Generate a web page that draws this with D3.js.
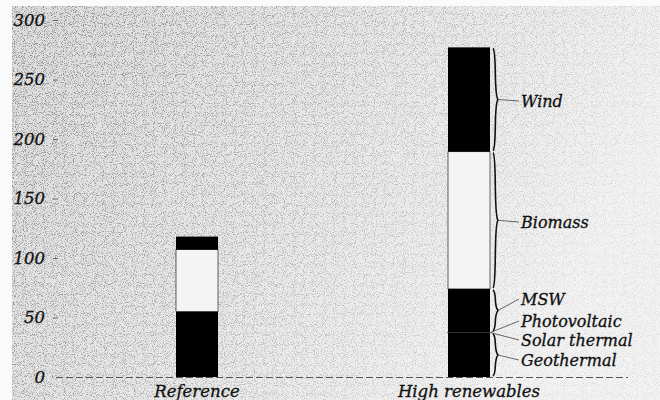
<!DOCTYPE html>
<html><head><meta charset="utf-8">
<script src="https://cdn.jsdelivr.net/npm/d3@7"></script>
<style>
html,body{margin:0;padding:0;background:#fafafa;}
text{font-family:"DejaVu Serif",serif;font-style:italic;fill:#111;stroke:#111;stroke-width:0.3px;}
</style></head>
<body>
<svg id="chart" width="660" height="400"></svg>
<script>
// ---- data ----
const categories = ["Reference", "High renewables"];
const seriesNames = ["Geothermal", "Solar thermal", "Photovoltaic", "MSW", "Biomass", "Wind"];
const geothermal   = [55, 37];
const solarThermal = [0, 0.4];
const photovoltaic = [0, 0.4];
const msw          = [0, 36.2];
const biomass      = [52, 115.3];
const wind         = [11, 87.7];
const yTicks = [0, 50, 100, 150, 200, 250, 300];
const seriesColors = ["#000", "#f4f4f4", "#f4f4f4", "#000", "#f4f4f4", "#000"];

const seriesValues = [geothermal, solarThermal, photovoltaic, msw, biomass, wind];
const table = categories.map((c, i) => {
  const row = {category: c};
  seriesNames.forEach((s, j) => row[s] = seriesValues[j][i]);
  return row;
});

const svg = d3.select("#chart");
const W = 660, H = 400;

// background: grey wash with speckle
const defs = svg.append("defs");
const grad = defs.append("linearGradient").attr("id","bg").attr("x1","0").attr("x2","1").attr("y1","0").attr("y2","0.35");
grad.append("stop").attr("offset","0").attr("stop-color","#dedede");
grad.append("stop").attr("offset","0.5").attr("stop-color","#e8e8e8");
grad.append("stop").attr("offset","1").attr("stop-color","#f3f3f3");
const mgrad = defs.append("linearGradient").attr("id","mg").attr("x1","0").attr("x2","1").attr("y1","0").attr("y2","0.35");
mgrad.append("stop").attr("offset","0").attr("stop-color","#fff");
mgrad.append("stop").attr("offset","0.55").attr("stop-color","#999");
mgrad.append("stop").attr("offset","1").attr("stop-color","#333");
defs.append("mask").attr("id","fade").append("rect").attr("x",0).attr("y",0).attr("width",W).attr("height",H).attr("fill","url(#mg)");
const filt = defs.append("filter").attr("id","noise").attr("x","0").attr("y","0").attr("width","1").attr("height","1");
filt.append("feTurbulence").attr("type","fractalNoise").attr("baseFrequency","1.1").attr("numOctaves","1").attr("seed","5").attr("result","t");
filt.append("feColorMatrix").attr("in","t").attr("type","matrix")
  .attr("values","0 0 0 0 0  0 0 0 0 0  0 0 0 0 0  5 0 0 0 -2.5");
svg.append("rect").attr("x",12).attr("y",6).attr("width",W-12).attr("height",H-6).attr("fill","url(#bg)");
svg.append("g").attr("mask","url(#fade)").append("rect").attr("x",12).attr("y",6).attr("width",W-12).attr("height",H-6)
  .attr("fill","#000").attr("opacity",0.4).attr("filter","url(#noise)");

// scales
const y = d3.scaleLinear().domain([0, 300]).range([377, 20]);
const x = d3.scalePoint().domain(categories).range([197, 469]);
const barW = 42;

// y axis
const yAxis = d3.axisLeft(y).tickValues(yTicks).tickSize(5).tickPadding(8).tickFormat(d3.format("d"));
const gy = svg.append("g").attr("transform","translate(58,0)").call(yAxis);
gy.select(".domain").remove();
gy.selectAll(".tick line").attr("stroke","#666");
gy.selectAll(".tick text").style("font-family","'DejaVu Serif',serif").style("font-style","italic")
  .style("font-size","16.5px").attr("fill","#111");
gy.selectAll(".tick").filter(d => d === 0).select("line").remove();

// baseline dashed
svg.append("line").attr("x1",56).attr("x2",628).attr("y1",y(0)+0.5).attr("y2",y(0)+0.5)
  .attr("stroke","#555").attr("stroke-width",1).attr("stroke-dasharray","7,3");

// stacked bars
const stack = d3.stack().keys(seriesNames)(table);
stack.forEach((layer, j) => {
  svg.append("g").selectAll("rect").data(layer).join("rect")
    .attr("x", d => x(d.data.category) - barW/2)
    .attr("y", d => y(d[1]))
    .attr("width", barW)
    .attr("height", d => Math.max(0, y(d[0]) - y(d[1])))
    .attr("fill", seriesColors[j])
    .attr("stroke", seriesColors[j] === "#000" ? "none" : "#000")
    .attr("stroke-width", seriesColors[j] === "#000" ? 0 : 0.6);
});

// category labels
svg.append("g").selectAll("text").data(categories).join("text")
  .attr("x", d => x(d)).attr("y", 397).attr("text-anchor","middle")
  .style("font-size","16.5px").text(d => d);

// braces + labels for High renewables
const hiLayer = name => stack[seriesNames.indexOf(name)][1];
const bx = x("High renewables") + barW/2 + 3;
function brace(y0, y1, w) {
  const m = (y0 + y1) / 2;
  return `M${bx},${y0} C${bx+w},${y0+3} ${bx+0.5},${m-5} ${bx+w+1},${m}` +
         ` C${bx+0.5},${m+5} ${bx+w},${y1-3} ${bx},${y1}`;
}
const labelX = 521;
const ann = [
  {name:"Wind", brace:true, labelY:107},
  {name:"Biomass", brace:true, labelY:228},
  {name:"MSW", brace:true, labelY:305},
  {name:"Photovoltaic", brace:false, labelY:327},
  {name:"Solar thermal", brace:false, labelY:346},
  {name:"Geothermal", brace:true, labelY:366}
];
const ag = svg.append("g");
ann.forEach(a => {
  const L = hiLayer(a.name);
  const top = y(L[1]), bot = y(L[0]);
  let tipX, tipY;
  if (a.brace) {
    ag.append("path").attr("d", brace(top+1, bot-1, 4)).attr("fill","none")
      .attr("stroke","#111").attr("stroke-width",1.6);
    tipX = bx + 5; tipY = (top + bot) / 2;
  } else {
    tipX = bx - 2; tipY = (top + bot) / 2;
  }
  ag.append("line").attr("x1", tipX).attr("y1", tipY).attr("x2", labelX - 2).attr("y2", a.labelY - 6)
    .attr("stroke","#444").attr("stroke-width",0.8);
  ag.append("text").attr("x", labelX).attr("y", a.labelY).style("font-size","16px").text(a.name);
});
</script>
</body></html>
